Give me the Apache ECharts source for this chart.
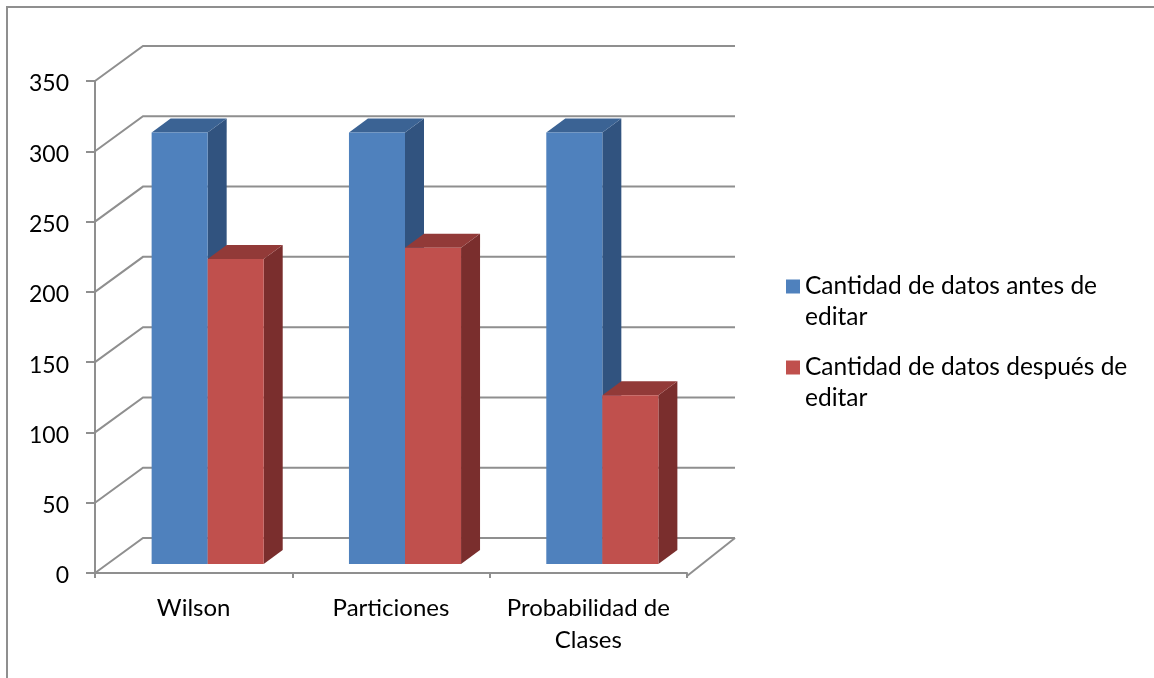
<!DOCTYPE html>
<html>
<head>
<meta charset="utf-8">
<script src="https://cdn.jsdelivr.net/npm/echarts@6/dist/echarts.min.js"></script>
<style>
  html, body { margin: 0; padding: 0; background: #fff; overflow: hidden; }
  #frame { position: absolute; left: 6px; top: 6px; width: 1300px; height: 800px;
           border-left: 2px solid #8f8f8f; border-top: 2px solid #8f8f8f; }
  #chart { position: absolute; left: 0; top: 0; width: 1154px; height: 678px; }
</style>
</head>
<body>
<div id="frame"></div>
<div id="chart"></div>
<script>
// Data
const categories = ['Wilson', 'Particiones', 'Probabilidad de\nClases'];
const seriesNames = ['Cantidad de datos antes de editar', 'Cantidad de datos después de editar'];
const antes = [307, 307, 307];
const despues = [217, 225, 120];
const yTicks = [0, 50, 100, 150, 200, 250, 300, 350];

// Look & geometry of the pseudo-3D box
const FONT = 'Lato, "Open Sans", sans-serif';
const GRID_COLOR = '#8f8f8f';
const WALL_DEPTH = [48, -35];   // offset from the front plane to the back wall
const BAR_SHIFT = [14, -9];     // offset from the front plane to the bar faces
const BAR_DEPTH = [19, -14];    // thickness of each bar
const BAR_RATIO = 0.284;        // bar width as a share of the category band
const FLOOR_DROP = 3;           // floor edge sits a little below the zero line

const palette = [
  { front: '#4F81BD', top: '#3B6394', side: '#31537F' },
  { front: '#C0504D', top: '#923A38', side: '#7A2E2D' }
];

// Back wall grid lines, side diagonals and the floor outline
function renderWall(params, api) {
  const cs = params.coordSys;
  const v = api.value(1);
  const y = api.coord([0, v])[1];
  const [dx, dy] = WALL_DEPTH;
  const xl = cs.x, xr = cs.x + cs.width;
  const style = { stroke: GRID_COLOR, lineWidth: 2, fill: null };
  const children = [{
    type: 'polyline',
    shape: { points: [[xl, y], [xl + dx, y + dy], [xr + dx, y + dy]] },
    style: style
  }];
  if (v === 0) {
    const yb = y + FLOOR_DROP;
    children.push({ type: 'line', shape: { x1: xl, y1: cs.y, x2: xl, y2: yb }, style: style });
    children.push({ type: 'line', shape: { x1: xr, y1: yb, x2: xr + dx, y2: y + dy }, style: style });
  }
  return { type: 'group', children: children, silent: true };
}

// 3D bar: front face, top face and right side face
function makeBarRenderer(seriesIdx) {
  const col = palette[seriesIdx];
  return function (params, api) {
    const cat = api.value(0), v = api.value(1);
    const base = api.coord([cat, 0]);
    const top = api.coord([cat, v]);
    const band = api.size([1, 0])[0];
    const w = band * BAR_RATIO;
    const x0 = base[0] + BAR_SHIFT[0] + (seriesIdx === 0 ? -w : 0);
    const x1 = x0 + w;
    const yb = base[1] + BAR_SHIFT[1];
    const yt = top[1] + BAR_SHIFT[1];
    const [dx, dy] = BAR_DEPTH;
    return {
      type: 'group',
      children: [
        { type: 'polygon', shape: { points: [[x1, yt], [x1 + dx, yt + dy], [x1 + dx, yb + dy], [x1, yb]] },
          style: { fill: col.side } },
        { type: 'polygon', shape: { points: [[x0, yt], [x1, yt], [x1 + dx, yt + dy], [x0 + dx, yt + dy]] },
          style: { fill: col.top } },
        { type: 'rect', shape: { x: x0, y: yt, width: w, height: yb - yt },
          style: { fill: col.front } }
      ]
    };
  };
}

const chart = echarts.init(document.getElementById('chart'), null, { renderer: 'canvas' });
chart.setOption({
  animation: false,
  backgroundColor: 'transparent',
  textStyle: { fontFamily: FONT },
  grid: { left: 95, top: 81, width: 592, height: 492, containLabel: false },
  legend: {
    orient: 'vertical',
    left: 786,
    top: 240,
    padding: 0,
    itemGap: -12,
    itemWidth: 14,
    itemHeight: 14,
    icon: 'rect',
    selectedMode: false,
    data: seriesNames,
    // leading blank line keeps the first text line level with the swatch
    formatter: function (n) { return ' \n' + n.replace(/ editar$/, '\neditar'); },
    textStyle: { fontFamily: FONT, fontSize: 24.5, lineHeight: 31, color: '#000' }
  },
  xAxis: {
    type: 'category',
    data: categories,
    offset: FLOOR_DROP,
    axisLine: { show: true, lineStyle: { color: GRID_COLOR, width: 2 } },
    axisTick: { show: true, length: 5, interval: 0, lineStyle: { color: GRID_COLOR, width: 2 } },
    axisLabel: { margin: 16, interval: 0, fontFamily: FONT, fontSize: 24, lineHeight: 32, color: '#000' },
    splitLine: { show: false }
  },
  yAxis: {
    type: 'value',
    min: 0,
    max: 350,
    interval: 50,
    axisLine: { show: false },
    axisTick: { show: true, length: 9, lineStyle: { color: GRID_COLOR, width: 2 } },
    axisLabel: { margin: 26, fontFamily: FONT, fontSize: 23, color: '#000',
                 verticalAlign: 'top', lineHeight: 6,
                 formatter: function (v) { return yTicks.indexOf(v) >= 0 ? String(v) : ''; } },
    splitLine: { show: false }
  },
  series: [
    {
      type: 'custom',
      name: 'walls',
      silent: true,
      z: 1,
      data: yTicks.map(function (v) { return [0, v]; }),
      renderItem: renderWall
    },
    {
      type: 'custom',
      name: seriesNames[0],
      z: 3,
      itemStyle: { color: palette[0].front },
      data: antes.map(function (v, i) { return [i, v]; }),
      renderItem: makeBarRenderer(0)
    },
    {
      type: 'custom',
      name: seriesNames[1],
      z: 4,
      itemStyle: { color: palette[1].front },
      data: despues.map(function (v, i) { return [i, v]; }),
      renderItem: makeBarRenderer(1)
    }
  ]
});
</script>
</body>
</html>
